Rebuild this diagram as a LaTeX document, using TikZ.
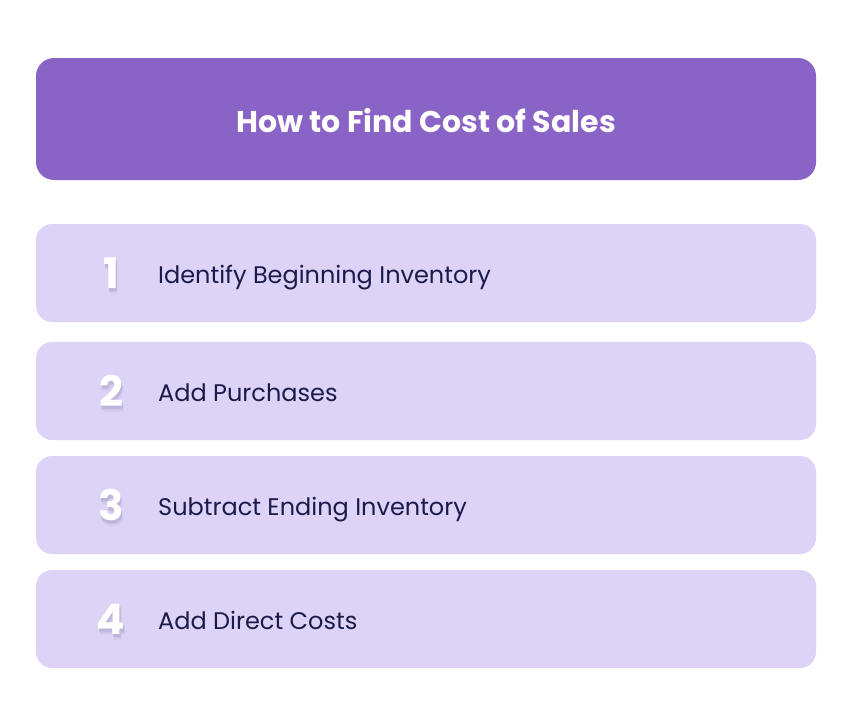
\documentclass[tikz,border=0pt]{standalone}
\usepackage{fontspec}
\setmainfont{Poppins}
\definecolor{headc}{HTML}{8A63C7}
\definecolor{rowc}{HTML}{DCD3F7}
\definecolor{txtc}{HTML}{1B1B4B}
\definecolor{shA}{HTML}{D3CBEE}
\definecolor{shB}{HTML}{C8BFE4}
\definecolor{shC}{HTML}{BEB5DA}
\newcommand\shadednum[1]{\makebox[0pt][l]{\raisebox{-6pt}{\hspace{2pt}\textcolor{shA}{#1}}}\makebox[0pt][l]{\raisebox{-4.5pt}{\hspace{1.5pt}\textcolor{shB}{#1}}}\makebox[0pt][l]{\raisebox{-3pt}{\hspace{1pt}\textcolor{shC}{#1}}}#1}
\begin{document}
\begin{tikzpicture}[x=1pt,y=-1pt,
  head/.style={fill=headc,rounded corners=18pt,draw=none},
  rowbox/.style={fill=rowc,rounded corners=16pt,draw=none},
  numtxt/.style={text=white,font=\fontsize{42}{42}\selectfont\bfseries,anchor=base,inner sep=0pt},
  steptxt/.style={text=txtc,font=\fontsize{24}{27}\selectfont,anchor=base west,inner sep=0pt}]
\useasboundingbox[fill=white] (0,0) rectangle (852,728);
\fill[head] (36,58) rectangle (816,180);
\node[text=white,font=\fontsize{30}{34}\selectfont\bfseries] (title) at (426,121) {How to Find Cost of Sales};
\foreach \i/\t/\lab in {1/224/Identify Beginning Inventory,2/342/Add Purchases,3/456/Subtract Ending Inventory,4/570/Add Direct Costs}{
  \fill[rowbox] (36,\t) rectangle (816,\t+98);
  \node[numtxt] (n\i) at (111,\t+64) {\shadednum{\i}};
  \node[steptxt] (t\i) at (158,\t+59) {\lab};
}
\end{tikzpicture}
\end{document}
